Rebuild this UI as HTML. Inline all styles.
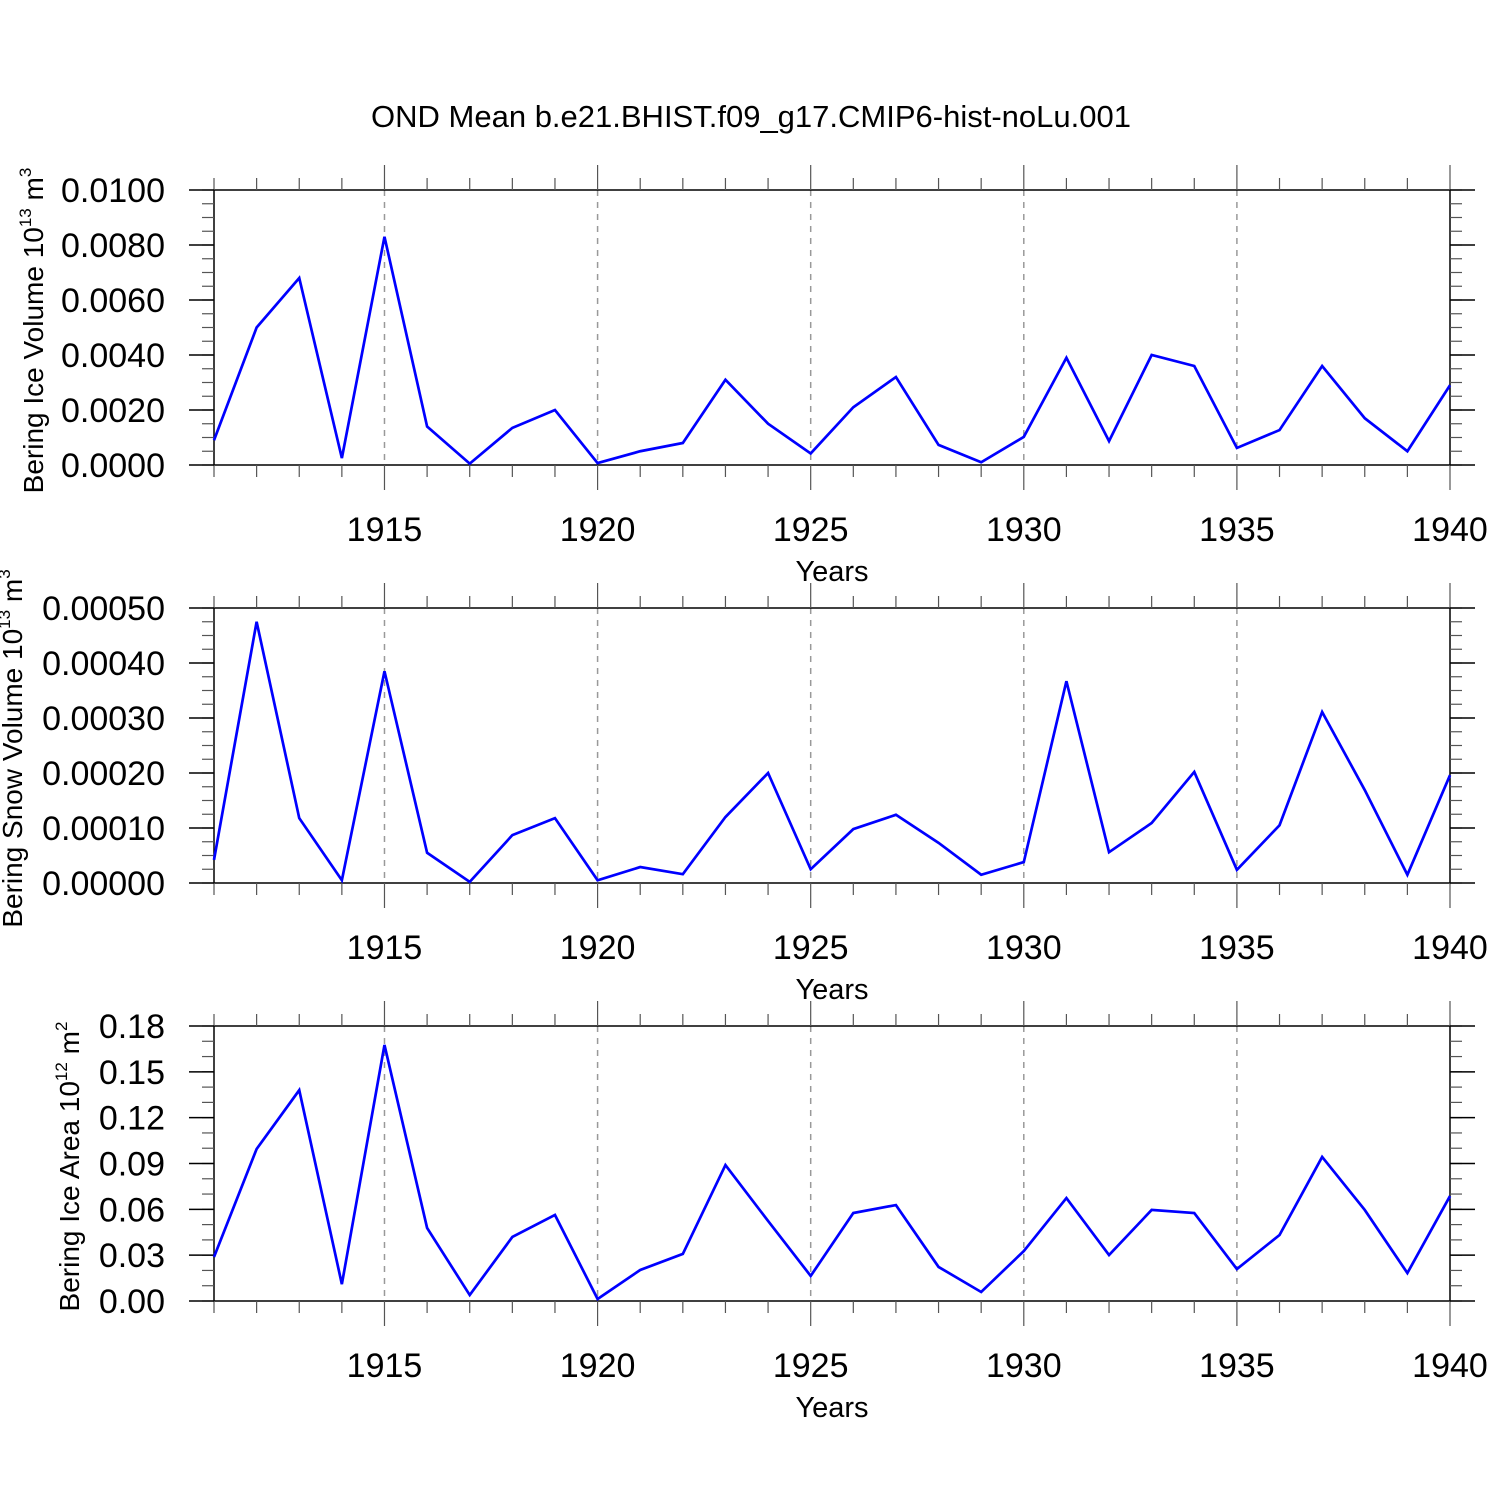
<!DOCTYPE html>
<html><head><meta charset="utf-8"><style>
body{margin:0;background:#fff}
svg{display:block;font-family:"Liberation Sans",sans-serif}
</style></head><body>
<svg id="chart" width="1500" height="1500" xmlns="http://www.w3.org/2000/svg">
<text x="751" y="127" font-size="31" text-anchor="middle">OND Mean b.e21.BHIST.f09_g17.CMIP6-hist-noLu.001</text>
</svg>
<script>
const years=[1911,1912,1913,1914,1915,1916,1917,1918,1919,1920,1921,1922,1923,1924,1925,1926,1927,1928,1929,1930,1931,1932,1933,1934,1935,1936,1937,1938,1939,1940];
const iceVolume=[0.0009,0.0050,0.0068,0.00025,0.0083,0.0014,0.00005,0.00135,0.0020,0.00007,0.0005,0.0008,0.0031,0.0015,0.00042,0.0021,0.0032,0.00073,0.0001,0.00102,0.0039,0.00087,0.0040,0.0036,0.00062,0.00127,0.0036,0.0017,0.0005,0.0029];
const snowVolume=[0.000042,0.000475,0.000118,0.000005,0.000385,0.000055,0.000002,0.000087,0.000118,0.000005,0.000029,0.000016,0.00012,0.0002,0.000025,0.000098,0.000124,0.000073,0.000015,0.000038,0.000367,0.000056,0.000109,0.000202,0.000024,0.000105,0.000311,0.000169,0.000015,0.000196];
const iceArea=[0.0288,0.0995,0.138,0.011,0.1676,0.0478,0.0039,0.0419,0.0563,0.0013,0.0203,0.0308,0.089,0.0524,0.0164,0.0576,0.0628,0.0223,0.0059,0.0327,0.0674,0.0301,0.0596,0.0576,0.0209,0.0432,0.0943,0.0596,0.0183,0.0687];
const xTicks=[1915,1920,1925,1930,1935,1940];
const iceVolTicks=["0.0000","0.0020","0.0040","0.0060","0.0080","0.0100"];
const snowTicks=["0.00000","0.00010","0.00020","0.00030","0.00040","0.00050"];
const areaTicks=["0.00","0.03","0.06","0.09","0.12","0.15","0.18"];

const NS="http://www.w3.org/2000/svg";
const svg=document.getElementById('chart');
const L=214,R=1450,H=275;
function xs(y){return L+(y-1911)/(1940-1911)*(R-L);}
function mk(tag,attrs,parent){const e=document.createElementNS(NS,tag);for(const k in attrs)e.setAttribute(k,attrs[k]);(parent||svg).appendChild(e);return e;}

function panel(top,vals,ticks,ymax,minorStep,name,titleMain,titleExp,titleUnit,titleX){
  const g=mk('g',{});
  
  
  const bot=top+H;
  const ys=v=>bot-v/ymax*H;
  xTicks.forEach(t=>{if(t<1940){const l=mk('line',{x1:xs(t),x2:xs(t),y1:top,y2:bot,stroke:'#999','stroke-width':1.5,'stroke-dasharray':'6,6'},g);
    }});
  mk('line',{x1:L,x2:L,y1:top,y2:bot,stroke:'#000','stroke-width':1.5},g);
  mk('line',{x1:R,x2:R,y1:top,y2:bot,stroke:'#000','stroke-width':1.5},g);
  mk('line',{x1:L,x2:R,y1:top,y2:top,stroke:'#000','stroke-width':1.5},g);
  mk('line',{x1:L,x2:R,y1:bot,y2:bot,stroke:'#000','stroke-width':1.5},g);
  years.forEach(y=>{const x=xs(y);const maj=xTicks.includes(y);
    mk('line',{x1:x,x2:x,y1:top-(maj?25:12),y2:top,stroke:'#555','stroke-width':1.2},g);
    mk('line',{x1:x,x2:x,y1:bot,y2:bot+(maj?25:12),stroke:'#555','stroke-width':1.2},g);});
  xTicks.forEach(t=>{const tx=mk('text',{x:xs(t),y:bot+76,'font-size':34,'text-anchor':'middle'},g);tx.textContent=t;
    });
  const yt=mk('text',{x:832,y:bot+116,'font-size':29,'text-anchor':'middle'},g);yt.textContent='Years';
  
  const step=ymax/(ticks.length-1);
  for(let v=0;v<=ymax+1e-12;v+=minorStep){const y=ys(v);
    mk('line',{x1:L-12,x2:L,y1:y,y2:y,stroke:'#555','stroke-width':1.2},g);
    mk('line',{x1:R,x2:R+12,y1:y,y2:y,stroke:'#555','stroke-width':1.2},g);}
  ticks.forEach((t,i)=>{const y=ys(i*step);
    mk('line',{x1:L-25,x2:L,y1:y,y2:y,stroke:'#000','stroke-width':1.5},g);
    mk('line',{x1:R,x2:R+25,y1:y,y2:y,stroke:'#000','stroke-width':1.5},g);
    const tx=mk('text',{x:165,y:y+12,'font-size':34,'text-anchor':'end'},g);tx.textContent=t;
    });
  const cy=top+H/2+3;
  const tt=mk('text',{x:0,y:0,'font-size':28,'text-anchor':'middle',transform:`translate(${titleX},${cy}) rotate(-90)`},g);
  
  const s1=mk('tspan',{},tt);s1.textContent=titleMain+' 10';
  const s2=mk('tspan',{'font-size':17,dy:-12},tt);s2.textContent=titleExp;
  const s3=mk('tspan',{dy:12},tt);s3.textContent=' m';
  const s4=mk('tspan',{'font-size':17,dy:-12},tt);s4.textContent=titleUnit;
  const pts=vals.map((v,i)=>xs(years[i])+','+ys(v)).join(' ');
  const pl=mk('polyline',{points:pts,fill:'none',stroke:'#0000ff','stroke-width':2.7,'stroke-linejoin':'miter'},g);
  
  
}
panel(190,iceVolume,iceVolTicks,0.01,0.0005,'ice-volume','Bering Ice Volume','13','3',43);
panel(608,snowVolume,snowTicks,0.0005,0.000025,'snow-volume','Bering Snow Volume','13','3',22);
panel(1026,iceArea,areaTicks,0.18,0.01,'ice-area','Bering Ice Area','12','2',79);
</script>
</body></html>
